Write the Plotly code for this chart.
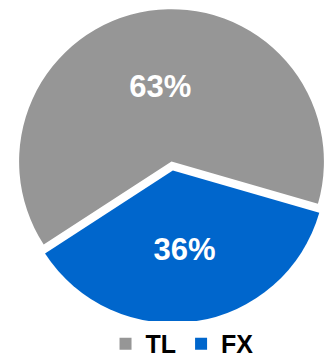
import plotly.graph_objects as go

labels = ["TL", "FX"]
values = [63, 36]
text_labels = ["63%", "36%"]
colors = ["#969696", "#0066CC"]
pulls = [0, 0.06]

fig = go.Figure(
    go.Pie(
        labels=labels,
        values=values,
        text=text_labels,
        textinfo="text",
        textposition="inside",
        insidetextorientation="horizontal",
        textfont=dict(family="Liberation Sans, Arial", size=31, color="white", weight="bold"),
        marker=dict(colors=colors, line=dict(width=0)),
        pull=pulls,
        sort=False,
        direction="clockwise",
        rotation=237,
        hoverinfo="label+text",
        domain=dict(x=[0.027, 1.0], y=[0.1, 1.0]),
    )
)

fig.update_layout(
    width=334,
    height=359,
    margin=dict(l=0, r=0, t=0, b=0, autoexpand=False),
    paper_bgcolor="white",
    plot_bgcolor="white",
    showlegend=True,
    legend=dict(
        orientation="h",
        x=0.545,
        xanchor="center",
        y=0.042,
        yanchor="middle",
        font=dict(family="Liberation Sans, Arial", size=25, color="black", weight="bold"),
        itemclick=False,
        traceorder="normal",
    ),
)

fig.write_html("out.html")
